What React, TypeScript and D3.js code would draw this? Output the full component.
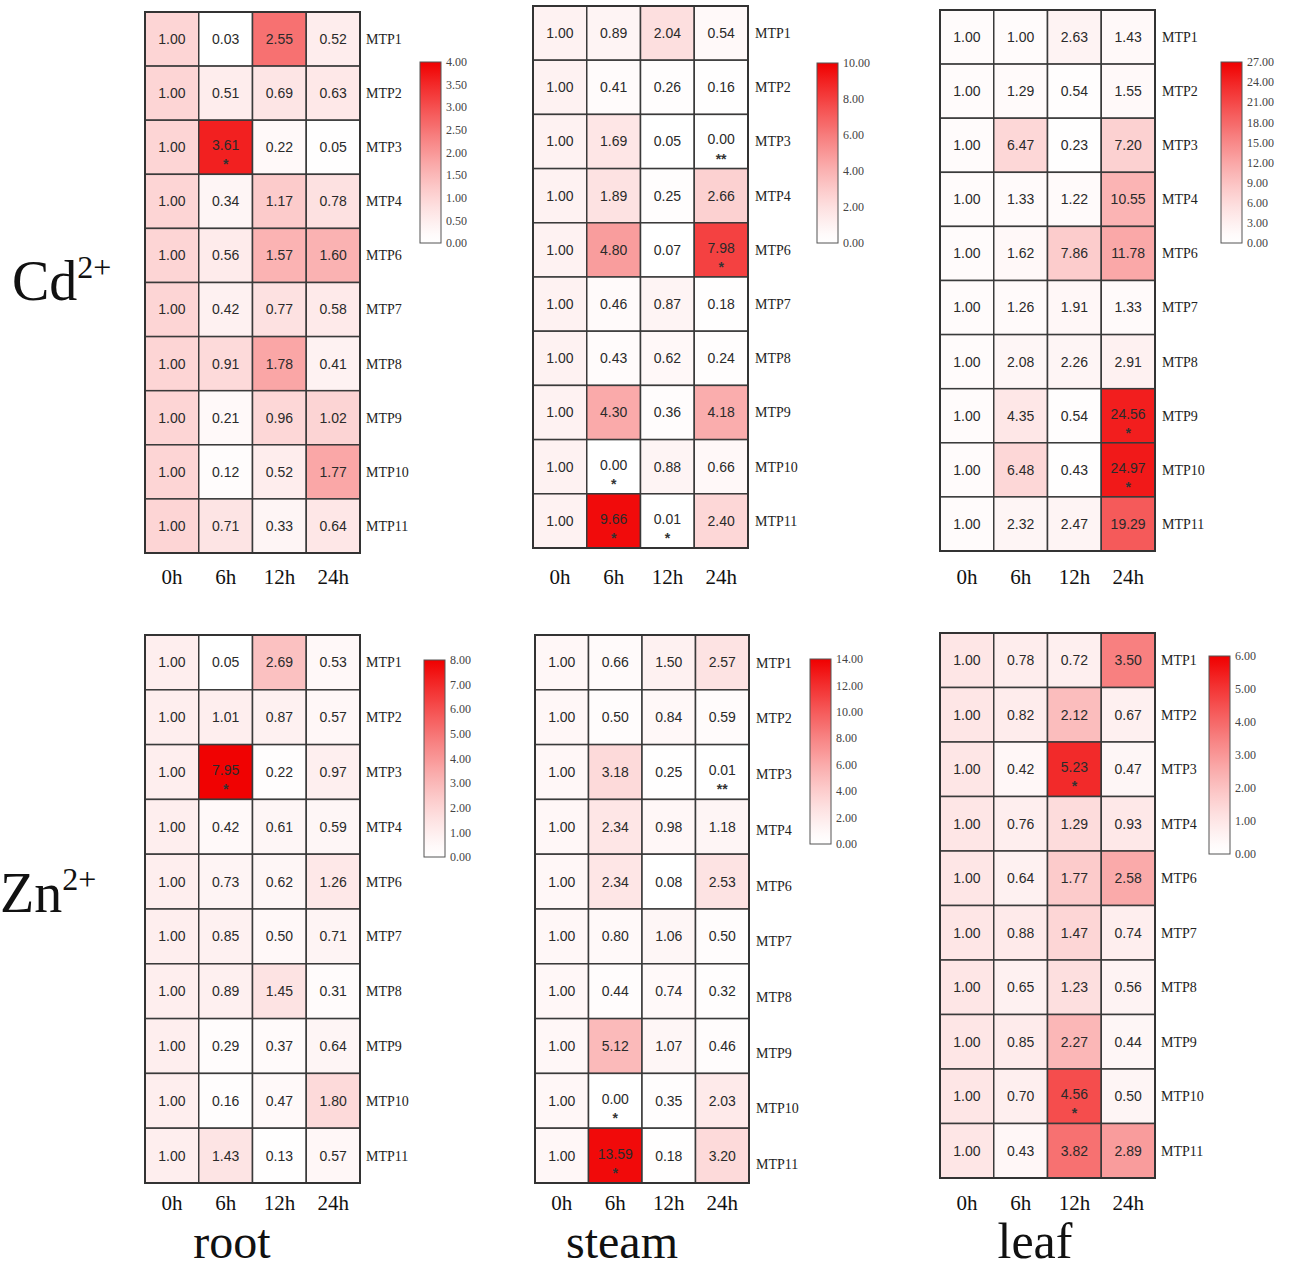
import React from 'react';
import * as d3 from 'd3';

const TIMES = ['0h', '6h', '12h', '24h'];
const GENES = ['MTP1', 'MTP2', 'MTP3', 'MTP4', 'MTP6', 'MTP7', 'MTP8', 'MTP9', 'MTP10', 'MTP11'];

// relative expression, rows = genes, cols = times
const cdRoot = [
  [1.0, 0.03, 2.55, 0.52], [1.0, 0.51, 0.69, 0.63], [1.0, 3.61, 0.22, 0.05], [1.0, 0.34, 1.17, 0.78],
  [1.0, 0.56, 1.57, 1.6], [1.0, 0.42, 0.77, 0.58], [1.0, 0.91, 1.78, 0.41], [1.0, 0.21, 0.96, 1.02],
  [1.0, 0.12, 0.52, 1.77], [1.0, 0.71, 0.33, 0.64],
];
const cdSteam = [
  [1.0, 0.89, 2.04, 0.54], [1.0, 0.41, 0.26, 0.16], [1.0, 1.69, 0.05, 0.0], [1.0, 1.89, 0.25, 2.66],
  [1.0, 4.8, 0.07, 7.98], [1.0, 0.46, 0.87, 0.18], [1.0, 0.43, 0.62, 0.24], [1.0, 4.3, 0.36, 4.18],
  [1.0, 0.0, 0.88, 0.66], [1.0, 9.66, 0.01, 2.4],
];
const cdLeaf = [
  [1.0, 1.0, 2.63, 1.43], [1.0, 1.29, 0.54, 1.55], [1.0, 6.47, 0.23, 7.2], [1.0, 1.33, 1.22, 10.55],
  [1.0, 1.62, 7.86, 11.78], [1.0, 1.26, 1.91, 1.33], [1.0, 2.08, 2.26, 2.91], [1.0, 4.35, 0.54, 24.56],
  [1.0, 6.48, 0.43, 24.97], [1.0, 2.32, 2.47, 19.29],
];
const znRoot = [
  [1.0, 0.05, 2.69, 0.53], [1.0, 1.01, 0.87, 0.57], [1.0, 7.95, 0.22, 0.97], [1.0, 0.42, 0.61, 0.59],
  [1.0, 0.73, 0.62, 1.26], [1.0, 0.85, 0.5, 0.71], [1.0, 0.89, 1.45, 0.31], [1.0, 0.29, 0.37, 0.64],
  [1.0, 0.16, 0.47, 1.8], [1.0, 1.43, 0.13, 0.57],
];
const znSteam = [
  [1.0, 0.66, 1.5, 2.57], [1.0, 0.5, 0.84, 0.59], [1.0, 3.18, 0.25, 0.01], [1.0, 2.34, 0.98, 1.18],
  [1.0, 2.34, 0.08, 2.53], [1.0, 0.8, 1.06, 0.5], [1.0, 0.44, 0.74, 0.32], [1.0, 5.12, 1.07, 0.46],
  [1.0, 0.0, 0.35, 2.03], [1.0, 13.59, 0.18, 3.2],
];
const znLeaf = [
  [1.0, 0.78, 0.72, 3.5], [1.0, 0.82, 2.12, 0.67], [1.0, 0.42, 5.23, 0.47], [1.0, 0.76, 1.29, 0.93],
  [1.0, 0.64, 1.77, 2.58], [1.0, 0.88, 1.47, 0.74], [1.0, 0.65, 1.23, 0.56], [1.0, 0.85, 2.27, 0.44],
  [1.0, 0.7, 4.56, 0.5], [1.0, 0.43, 3.82, 2.89],
];

// significance marks: [gene, time, mark]
const cdRootSig = [['MTP3', '6h', '*']];
const cdSteamSig = [['MTP3', '24h', '**'], ['MTP6', '24h', '*'], ['MTP10', '6h', '*'], ['MTP11', '6h', '*'], ['MTP11', '12h', '*']];
const cdLeafSig = [['MTP9', '24h', '*'], ['MTP10', '24h', '*']];
const znRootSig = [['MTP3', '6h', '*']];
const znSteamSig = [['MTP3', '24h', '**'], ['MTP10', '6h', '*'], ['MTP11', '6h', '*']];
const znLeafSig = [['MTP3', '12h', '*'], ['MTP10', '12h', '*']];

// colour key ticks
const cdRootTicks = [0, 0.5, 1, 1.5, 2, 2.5, 3, 3.5, 4];
const cdSteamTicks = [0, 2, 4, 6, 8, 10];
const cdLeafTicks = [0, 3, 6, 9, 12, 15, 18, 21, 24, 27];
const znRootTicks = [0, 1, 2, 3, 4, 5, 6, 7, 8];
const znSteamTicks = [0, 2, 4, 6, 8, 10, 12, 14];
const znLeafTicks = [0, 1, 2, 3, 4, 5, 6];

const panels = [
  { id: 'cdr', data: cdRoot, sig: cdRootSig, ticks: cdRootTicks, x0: 145, x1: 360, y0: 12, y1: 553, ly: [12, 553], lx: 366, leg: { x: 420, y0: 62, y1: 243 }, axY: 584 },
  { id: 'cds', data: cdSteam, sig: cdSteamSig, ticks: cdSteamTicks, x0: 533, x1: 748, y0: 6, y1: 548, ly: [6, 548], lx: 755, leg: { x: 817, y0: 63, y1: 243 }, axY: 584 },
  { id: 'cdl', data: cdLeaf, sig: cdLeafSig, ticks: cdLeafTicks, x0: 940, x1: 1155, y0: 10, y1: 551, ly: [10, 551], lx: 1162, leg: { x: 1221, y0: 62, y1: 243 }, axY: 584 },
  { id: 'znr', data: znRoot, sig: znRootSig, ticks: znRootTicks, x0: 145, x1: 360, y0: 635, y1: 1183, ly: [635, 1183], lx: 366, leg: { x: 424, y0: 660, y1: 857 }, axY: 1210 },
  { id: 'zns', data: znSteam, sig: znSteamSig, ticks: znSteamTicks, x0: 535, x1: 749, y0: 635, y1: 1183, ly: [635, 1192], lx: 756, leg: { x: 810, y0: 659, y1: 844 }, axY: 1210 },
  { id: 'znl', data: znLeaf, sig: znLeafSig, ticks: znLeafTicks, x0: 940, x1: 1155, y0: 633, y1: 1178, ly: [633, 1178], lx: 1161, leg: { x: 1209, y0: 656, y1: 854 }, axY: 1210 },
];

const colorOf = (t: number) => d3.interpolateRgb('#ffffff', '#f00000')(Math.pow(Math.max(0, Math.min(1, t)), 1.3));

const SERIF = '"Liberation Serif", "Times New Roman", serif';
const SANS = '"Liberation Sans", Arial, sans-serif';

function Panel({ p }: { p: any }) {
  const max = d3.max(p.ticks as number[]) as number;
  const x = d3.scaleBand<string>().domain(TIMES).range([p.x0, p.x1]);
  const y = d3.scaleBand<string>().domain(GENES).range([p.y0, p.y1]);
  const yl = d3.scaleBand<string>().domain(GENES).range(p.ly);
  const ky = d3.scaleLinear().domain([0, max]).range([p.leg.y1, p.leg.y0]);
  const sigMap = new Map<string, string>(p.sig.map((s: string[]) => [s[0] + '|' + s[1], s[2]]));
  const gradId = 'grad-' + p.id;
  const stops = d3.range(0, 1.0001, 0.05);

  return (
    <g>
      <defs>
        <linearGradient id={gradId} x1="0" y1="1" x2="0" y2="0">
          {stops.map((s) => (
            <stop key={s} offset={s} stopColor={colorOf(s)} />
          ))}
        </linearGradient>
      </defs>
      {GENES.map((g, i) =>
        TIMES.map((t, j) => {
          const v = p.data[i][j];
          const cx = (x(t) as number) + x.bandwidth() / 2;
          const cy = (y(g) as number) + y.bandwidth() / 2;
          const mark = sigMap.get(g + '|' + t);
          return (
            <g key={g + t}>
              <rect x={x(t)} y={y(g)} width={x.bandwidth()} height={y.bandwidth()} fill={colorOf(v / max)} stroke="#3a3a3a" strokeWidth={1.5} />
              <text x={cx} y={mark ? cy - 2 : cy} dy="0.35em" textAnchor="middle" fontFamily={SANS} fontSize={14} fill="#2a2a2a">
                {v.toFixed(2)}
              </text>
              {mark && (
                <text x={cx} y={cy + 22} textAnchor="middle" fontFamily={SANS} fontSize={14} fontWeight="bold" fill="#333">
                  {mark}
                </text>
              )}
            </g>
          );
        })
      )}
      <rect x={p.x0} y={p.y0} width={p.x1 - p.x0} height={p.y1 - p.y0} fill="none" stroke="#333" strokeWidth={2} />
      {GENES.map((g) => (
        <text key={'l' + g} x={p.lx} y={(yl(g) as number) + yl.bandwidth() / 2} dy="0.35em" fontFamily={SERIF} fontSize={14} fill="#222">
          {g}
        </text>
      ))}
      {TIMES.map((t) => (
        <text key={'a' + t} x={(x(t) as number) + x.bandwidth() / 2} y={p.axY} textAnchor="middle" fontFamily={SERIF} fontSize={21} fill="#111">
          {t}
        </text>
      ))}
      <rect x={p.leg.x} y={p.leg.y0} width={21} height={p.leg.y1 - p.leg.y0} fill={`url(#${gradId})`} stroke="#555" strokeWidth={1} />
      {(p.ticks as number[]).map((tk) => (
        <text key={'k' + tk} x={p.leg.x + 26} y={ky(tk)} dy="0.35em" fontFamily={SERIF} fontSize={12} fill="#444">
          {tk.toFixed(2)}
        </text>
      ))}
    </g>
  );
}

export default function App() {
  return (
    <svg width={1290} height={1269} style={{ position: 'absolute', left: 0, top: 0, background: '#fff' }}>
      <rect width={1290} height={1269} fill="#fff" />
      {panels.map((p) => (
        <Panel key={p.id} p={p} />
      ))}
      <text x={12} y={300} fontFamily={SERIF} fontSize={56} fill="#111">
        Cd
        <tspan fontSize={32} dy={-22}>2+</tspan>
      </text>
      <text x={0} y={912} fontFamily={SERIF} fontSize={56} fill="#111">
        Zn
        <tspan fontSize={32} dy={-22}>2+</tspan>
      </text>
      <text x={232} y={1258} textAnchor="middle" fontFamily={SERIF} fontSize={48} fill="#111">root</text>
      <text x={622} y={1258} textAnchor="middle" fontFamily={SERIF} fontSize={48} fill="#111">steam</text>
      <text x={1035} y={1258} textAnchor="middle" fontFamily={SERIF} fontSize={50} fill="#111">leaf</text>
    </svg>
  );
}
